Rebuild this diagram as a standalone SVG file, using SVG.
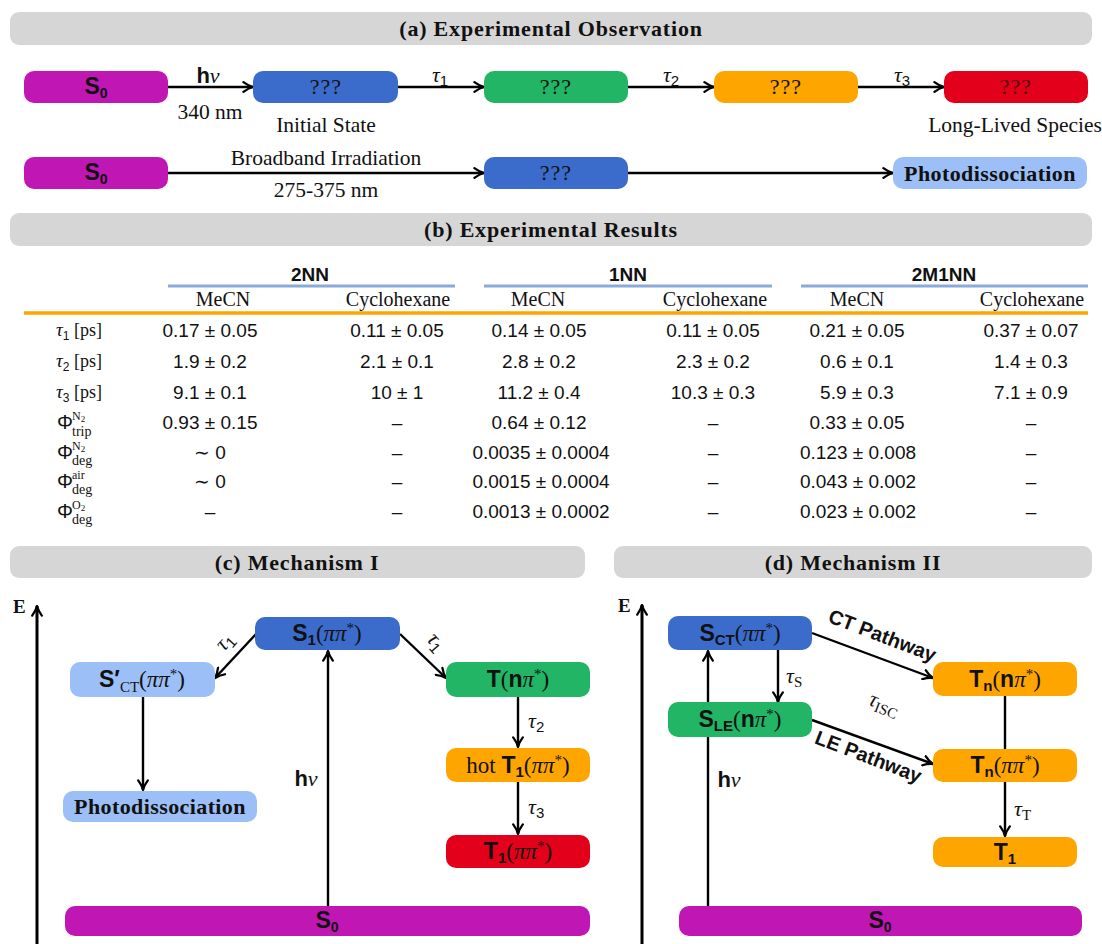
<svg xmlns="http://www.w3.org/2000/svg" width="1102" height="944" viewBox="0 0 1102 944">
<defs>
<marker id="ah" viewBox="0 0 10 10" refX="9" refY="5" markerWidth="12" markerHeight="12" markerUnits="userSpaceOnUse" orient="auto">
<path d="M1,1 Q5,4 9,5 Q5,6 1,9" fill="none" stroke="#000" stroke-width="1.9" stroke-linecap="round" stroke-linejoin="round"/>
</marker>
<style>
.bar{fill:#d6d6d6}
.title{font-family:"Liberation Serif",serif;font-weight:bold;font-size:22px;letter-spacing:0.8px;text-anchor:middle;fill:#111}
.ser{font-family:"Liberation Serif",serif}
.sans{font-family:"Liberation Sans",sans-serif}
.b{font-weight:bold}
.i{font-style:italic}
.c{text-anchor:middle}
.t{fill:#111}
.mag{fill:#c016b4}
.blu{fill:#3b6ccb}
.grn{fill:#22b565}
.org{fill:#ffa500}
.red{fill:#e2001a}
.lbl{fill:#9cbff7}
.cn line{stroke:#000;stroke-width:2.4;fill:none;marker-end:url(#ah)}
.cn line.plain{marker-end:none}
.cn line.axis{stroke-width:3}
.hd{font-family:"Liberation Sans",sans-serif;font-weight:bold;font-size:19px;text-anchor:middle;fill:#111}
.sub{font-family:"Liberation Serif",serif;font-size:20px;text-anchor:middle;fill:#111}
.d{font-family:"Liberation Sans",sans-serif;font-size:19px;text-anchor:middle;fill:#111}
.rl{font-family:"Liberation Serif",serif;font-size:18px;fill:#111}
.nt{font-size:23px;text-anchor:middle;fill:#111}
.q{font-family:"Liberation Serif",serif;font-size:22px;letter-spacing:1px;text-anchor:middle;fill:#111}
.lab{font-family:"Liberation Serif",serif;font-size:21.5px;text-anchor:middle;fill:#111}
.ph{font-family:"Liberation Serif",serif;font-weight:bold;font-size:22px;letter-spacing:0.4px;text-anchor:middle;fill:#111}
</style>
</defs>

<!-- ===== (a) ===== -->
<g id="header-a"><rect class="bar" x="10" y="12" width="1082" height="33" rx="9"/><text class="title" x="551" y="36">(a) Experimental Observation</text></g>

<g class="cn" id="connectors">
<line x1="168" y1="87" x2="253" y2="87"/>
<line x1="398" y1="87" x2="484" y2="87"/>
<line x1="628" y1="87" x2="714" y2="87"/>
<line x1="858" y1="87" x2="944" y2="87"/>
<line x1="168" y1="173" x2="484" y2="173"/>
<line x1="628" y1="173" x2="893" y2="173"/>
<!-- (c) -->
<line class="axis" x1="37" y1="944" x2="37" y2="606"/>
<line x1="256" y1="634" x2="215" y2="678"/>
<line x1="400" y1="634" x2="446" y2="678"/>
<line x1="143" y1="697" x2="143" y2="790"/>
<line x1="518" y1="697" x2="518" y2="747"/>
<line x1="518" y1="782" x2="518" y2="834"/>
<line x1="328" y1="906" x2="328" y2="651"/>
<!-- (d) -->
<line class="axis" x1="642" y1="944" x2="642" y2="605"/>
<line x1="708" y1="906" x2="708" y2="651"/>
<line x1="778" y1="650" x2="778" y2="702"/>
<line x1="812" y1="633" x2="933" y2="678"/>
<line x1="812" y1="720" x2="933" y2="764"/>
<line class="plain" x1="1005" y1="696" x2="1005" y2="749"/>
<line x1="1005" y1="782" x2="1005" y2="836"/>
</g>

<g id="labels-a">
<text class="c t" x="208" y="83" font-size="22"><tspan class="sans b">h</tspan><tspan class="ser i">ν</tspan></text>
<text class="lab" x="210" y="119">340 nm</text>
<text class="c t" x="440" y="82" font-size="22"><tspan class="ser i">τ</tspan><tspan class="sans" font-size="15" dy="4">1</tspan></text>
<text class="c t" x="671" y="82" font-size="22"><tspan class="ser i">τ</tspan><tspan class="sans" font-size="15" dy="4">2</tspan></text>
<text class="c t" x="902" y="82" font-size="22"><tspan class="ser i">τ</tspan><tspan class="sans" font-size="15" dy="4">3</tspan></text>
<text class="lab" x="326" y="132">Initial State</text>
<text class="lab" x="1015" y="132">Long-Lived Species</text>
<text class="lab" x="326" y="165">Broadband Irradiation</text>
<text class="lab" x="326" y="197">275-375 nm</text>
</g>

<g id="a-s0-1"><rect class="mag" x="24" y="71" width="144" height="32" rx="10"/><text class="sans b nt" x="96" y="94" font-size="20">S<tspan font-size="14" dy="4">0</tspan></text></g>
<g id="a-q1"><rect class="blu" x="253" y="71" width="145" height="32" rx="10"/><text class="q" x="326" y="94">???</text></g>
<g id="a-q2"><rect class="grn" x="484" y="71" width="144" height="32" rx="10"/><text class="q" x="556" y="94">???</text></g>
<g id="a-q3"><rect class="org" x="714" y="71" width="144" height="32" rx="10"/><text class="q" x="786" y="94">???</text></g>
<g id="a-q4"><rect class="red" x="944" y="71" width="144" height="32" rx="10"/><text class="q" x="1016" y="94" style="fill:#5a0010">???</text></g>
<g id="a-s0-2"><rect class="mag" x="24" y="157" width="144" height="32" rx="10"/><text class="sans b nt" x="96" y="180" font-size="20">S<tspan font-size="14" dy="4">0</tspan></text></g>
<g id="a-q5"><rect class="blu" x="484" y="157" width="144" height="32" rx="10"/><text class="q" x="556" y="180">???</text></g>
<g id="a-photo"><rect class="lbl" x="893" y="157" width="194" height="32" rx="10"/><text class="ph" x="990" y="181">Photodissociation</text></g>

<!-- ===== (b) ===== -->
<g id="header-b"><rect class="bar" x="10" y="213" width="1082" height="33" rx="9"/><text class="title" x="551" y="237">(b) Experimental Results</text></g>

<g id="table">
<text class="hd" x="310" y="281">2NN</text>
<text class="hd" x="628" y="281">1NN</text>
<text class="hd" x="944" y="281">2M1NN</text>
<line x1="168" y1="286" x2="455" y2="286" stroke="#8aaadc" stroke-width="3"/>
<line x1="484" y1="286" x2="772" y2="286" stroke="#8aaadc" stroke-width="3"/>
<line x1="801" y1="286" x2="1088" y2="286" stroke="#8aaadc" stroke-width="3"/>
<text class="sub" x="223" y="306">MeCN</text>
<text class="sub" x="398" y="306">Cyclohexane</text>
<text class="sub" x="538" y="306">MeCN</text>
<text class="sub" x="715" y="306">Cyclohexane</text>
<text class="sub" x="857" y="306">MeCN</text>
<text class="sub" x="1032" y="306">Cyclohexane</text>
<line x1="24" y1="313" x2="1088" y2="313" stroke="#ffa500" stroke-width="3.5"/>

<!-- row labels -->
<text class="rl" x="56" y="336"><tspan class="i" font-size="19">τ</tspan><tspan class="sans" font-size="12" dy="4">1</tspan><tspan dy="-4"> [ps]</tspan></text>
<text class="rl" x="56" y="367"><tspan class="i" font-size="19">τ</tspan><tspan class="sans" font-size="12" dy="4">2</tspan><tspan dy="-4"> [ps]</tspan></text>
<text class="rl" x="56" y="398"><tspan class="i" font-size="19">τ</tspan><tspan class="sans" font-size="12" dy="4">3</tspan><tspan dy="-4"> [ps]</tspan></text>
<g class="rl">
<text class="sans" x="57" y="429" font-size="20">Φ</text><text x="72" y="420" font-size="12">N<tspan font-size="9" dy="2">2</tspan></text><text x="72" y="436" font-size="14">trip</text>
<text class="sans" x="57" y="459" font-size="20">Φ</text><text x="72" y="450" font-size="12">N<tspan font-size="9" dy="2">2</tspan></text><text x="72" y="465" font-size="14">deg</text>
<text class="sans" x="57" y="488" font-size="20">Φ</text><text x="72" y="479" font-size="12">air</text><text x="72" y="494" font-size="14">deg</text>
<text class="sans" x="57" y="518" font-size="20">Φ</text><text x="72" y="509" font-size="12">O<tspan font-size="9" dy="2">2</tspan></text><text x="72" y="524" font-size="14">deg</text>
</g>

<!-- data -->
<g class="d">
<text x="210" y="337">0.17 ± 0.05</text><text x="397" y="337">0.11 ± 0.05</text><text x="539" y="337">0.14 ± 0.05</text><text x="713" y="337">0.11 ± 0.05</text><text x="857" y="337">0.21 ± 0.05</text><text x="1031" y="337">0.37 ± 0.07</text>
<text x="210" y="368">1.9 ± 0.2</text><text x="397" y="368">2.1 ± 0.1</text><text x="539" y="368">2.8 ± 0.2</text><text x="713" y="368">2.3 ± 0.2</text><text x="857" y="368">0.6 ± 0.1</text><text x="1031" y="368">1.4 ± 0.3</text>
<text x="210" y="399">9.1 ± 0.1</text><text x="397" y="399">10 ± 1</text><text x="539" y="399">11.2 ± 0.4</text><text x="713" y="399">10.3 ± 0.3</text><text x="857" y="399">5.9 ± 0.3</text><text x="1031" y="399">7.1 ± 0.9</text>
<text x="210" y="429">0.93 ± 0.15</text><text x="397" y="429">–</text><text x="539" y="429">0.64 ± 0.12</text><text x="713" y="429">–</text><text x="857" y="429">0.33 ± 0.05</text><text x="1031" y="429">–</text>
<text x="210" y="459">∼ 0</text><text x="397" y="459">–</text><text x="541" y="459">0.0035 ± 0.0004</text><text x="713" y="459">–</text><text x="858" y="459">0.123 ± 0.008</text><text x="1031" y="459">–</text>
<text x="210" y="488">∼ 0</text><text x="397" y="488">–</text><text x="541" y="488">0.0015 ± 0.0004</text><text x="713" y="488">–</text><text x="858" y="488">0.043 ± 0.002</text><text x="1031" y="488">–</text>
<text x="210" y="518">–</text><text x="397" y="518">–</text><text x="541" y="518">0.0013 ± 0.0002</text><text x="713" y="518">–</text><text x="858" y="518">0.023 ± 0.002</text><text x="1031" y="518">–</text>
</g>
</g>

<!-- ===== (c) ===== -->
<g id="header-c"><rect class="bar" x="10" y="546" width="575" height="32" rx="9"/><text class="title" x="297" y="570">(c) Mechanism I</text></g>
<g id="labels-c">
<text class="ser b t" x="13" y="613" font-size="19">E</text>
<text class="t" x="0" y="0" font-size="22" transform="translate(224,652) rotate(-48)"><tspan class="ser i">τ</tspan><tspan class="sans" font-size="15" dy="4">1</tspan></text>
<text class="t" x="0" y="0" font-size="22" transform="translate(426,640) rotate(48)"><tspan class="ser i">τ</tspan><tspan class="sans" font-size="15" dy="4">1</tspan></text>
<text class="t" x="528" y="728" font-size="22"><tspan class="ser i">τ</tspan><tspan class="sans" font-size="15" dy="4">2</tspan></text>
<text class="t" x="528" y="814" font-size="22"><tspan class="ser i">τ</tspan><tspan class="sans" font-size="15" dy="4">3</tspan></text>
<text class="t c" x="306" y="786" font-size="22"><tspan class="sans b">h</tspan><tspan class="ser i">ν</tspan></text>
</g>
<g id="c-s1"><rect class="blu" x="255" y="617" width="145" height="33" rx="10"/><text class="nt" x="327" y="641"><tspan class="sans b">S</tspan><tspan class="sans b" font-size="15" dy="4">1</tspan><tspan class="ser" dy="-4">(</tspan><tspan class="ser i">ππ</tspan><tspan class="ser" font-size="15" dy="-8">*</tspan><tspan class="ser" dy="8">)</tspan></text></g>
<g id="c-sct"><rect class="lbl" x="70" y="662" width="145" height="35" rx="10"/><text class="nt" x="142" y="687"><tspan class="sans b">S′</tspan><tspan class="ser" font-size="15" dy="5">CT</tspan><tspan class="ser" dy="-5">(</tspan><tspan class="ser i">ππ</tspan><tspan class="ser" font-size="15" dy="-8">*</tspan><tspan class="ser" dy="8">)</tspan></text></g>
<g id="c-tn"><rect class="grn" x="446" y="662" width="144" height="35" rx="10"/><text class="nt" x="518" y="687"><tspan class="sans b">T</tspan><tspan class="ser">(</tspan><tspan class="sans b">n</tspan><tspan class="ser i">π</tspan><tspan class="ser" font-size="15" dy="-8">*</tspan><tspan class="ser" dy="8">)</tspan></text></g>
<g id="c-hot"><rect class="org" x="446" y="748" width="144" height="34" rx="10"/><text class="nt" x="518" y="773"><tspan class="ser">hot </tspan><tspan class="sans b">T</tspan><tspan class="sans b" font-size="15" dy="4">1</tspan><tspan class="ser" dy="-4">(</tspan><tspan class="ser i">ππ</tspan><tspan class="ser" font-size="15" dy="-8">*</tspan><tspan class="ser" dy="8">)</tspan></text></g>
<g id="c-t1"><rect class="red" x="446" y="835" width="144" height="33" rx="10"/><text class="nt" x="518" y="859"><tspan class="sans b">T</tspan><tspan class="sans b" font-size="15" dy="4">1</tspan><tspan class="ser" dy="-4">(</tspan><tspan class="ser i">ππ</tspan><tspan class="ser" font-size="15" dy="-8">*</tspan><tspan class="ser" dy="8">)</tspan></text></g>
<g id="c-photo"><rect class="lbl" x="63" y="791" width="194" height="31" rx="10"/><text class="ph" x="160" y="814">Photodissociation</text></g>
<g id="c-s0"><rect class="mag" x="65" y="906" width="525" height="30" rx="10"/><text class="sans b nt" x="327" y="928" font-size="20">S<tspan font-size="14" dy="4">0</tspan></text></g>

<!-- ===== (d) ===== -->
<g id="header-d"><rect class="bar" x="614" y="546" width="478" height="32" rx="9"/><text class="title" x="853" y="570">(d) Mechanism II</text></g>
<g id="labels-d">
<text class="ser b t" x="618" y="612" font-size="19">E</text>
<text class="t" x="786" y="683" font-size="22"><tspan class="ser i">τ</tspan><tspan class="ser" font-size="15" dy="4">S</tspan></text>
<text class="t" x="1014" y="816" font-size="22"><tspan class="ser i">τ</tspan><tspan class="ser" font-size="15" dy="4">T</tspan></text>
<text class="t c" x="729" y="787" font-size="22"><tspan class="sans b">h</tspan><tspan class="ser i">ν</tspan></text>
<text class="sans b t c" x="0" y="0" font-size="20" transform="translate(880,642) rotate(21)">CT Pathway</text>
<text class="sans b t c" x="0" y="0" font-size="20" transform="translate(866,763) rotate(21)">LE Pathway</text>
<text class="t c" x="0" y="0" font-size="22" transform="translate(882,710) rotate(21)"><tspan class="ser i">τ</tspan><tspan class="ser" font-size="15" dy="4">ISC</tspan></text>
</g>
<g id="d-sct"><rect class="blu" x="668" y="616" width="144" height="34" rx="10"/><text class="nt" x="740" y="641"><tspan class="sans b">S</tspan><tspan class="sans b" font-size="15" dy="4">CT</tspan><tspan class="ser" dy="-4">(</tspan><tspan class="ser i">ππ</tspan><tspan class="ser" font-size="15" dy="-8">*</tspan><tspan class="ser" dy="8">)</tspan></text></g>
<g id="d-sle"><rect class="grn" x="668" y="702" width="144" height="35" rx="10"/><text class="nt" x="740" y="727"><tspan class="sans b">S</tspan><tspan class="sans b" font-size="15" dy="4">LE</tspan><tspan class="ser" dy="-4">(</tspan><tspan class="sans b">n</tspan><tspan class="ser i">π</tspan><tspan class="ser" font-size="15" dy="-8">*</tspan><tspan class="ser" dy="8">)</tspan></text></g>
<g id="d-tnn"><rect class="org" x="933" y="662" width="144" height="34" rx="10"/><text class="nt" x="1005" y="687"><tspan class="sans b">T</tspan><tspan class="sans b" font-size="15" dy="4">n</tspan><tspan class="ser" dy="-4">(</tspan><tspan class="sans b">n</tspan><tspan class="ser i">π</tspan><tspan class="ser" font-size="15" dy="-8">*</tspan><tspan class="ser" dy="8">)</tspan></text></g>
<g id="d-tnp"><rect class="org" x="933" y="749" width="144" height="33" rx="10"/><text class="nt" x="1005" y="773"><tspan class="sans b">T</tspan><tspan class="sans b" font-size="15" dy="4">n</tspan><tspan class="ser" dy="-4">(</tspan><tspan class="ser i">ππ</tspan><tspan class="ser" font-size="15" dy="-8">*</tspan><tspan class="ser" dy="8">)</tspan></text></g>
<g id="d-t1"><rect class="org" x="933" y="837" width="144" height="30" rx="10"/><text class="nt" x="1005" y="860"><tspan class="sans b">T</tspan><tspan class="sans b" font-size="15" dy="4">1</tspan></text></g>
<g id="d-s0"><rect class="mag" x="679" y="906" width="403" height="30" rx="10"/><text class="sans b nt" x="880" y="928" font-size="20">S<tspan font-size="14" dy="4">0</tspan></text></g>
</svg>
